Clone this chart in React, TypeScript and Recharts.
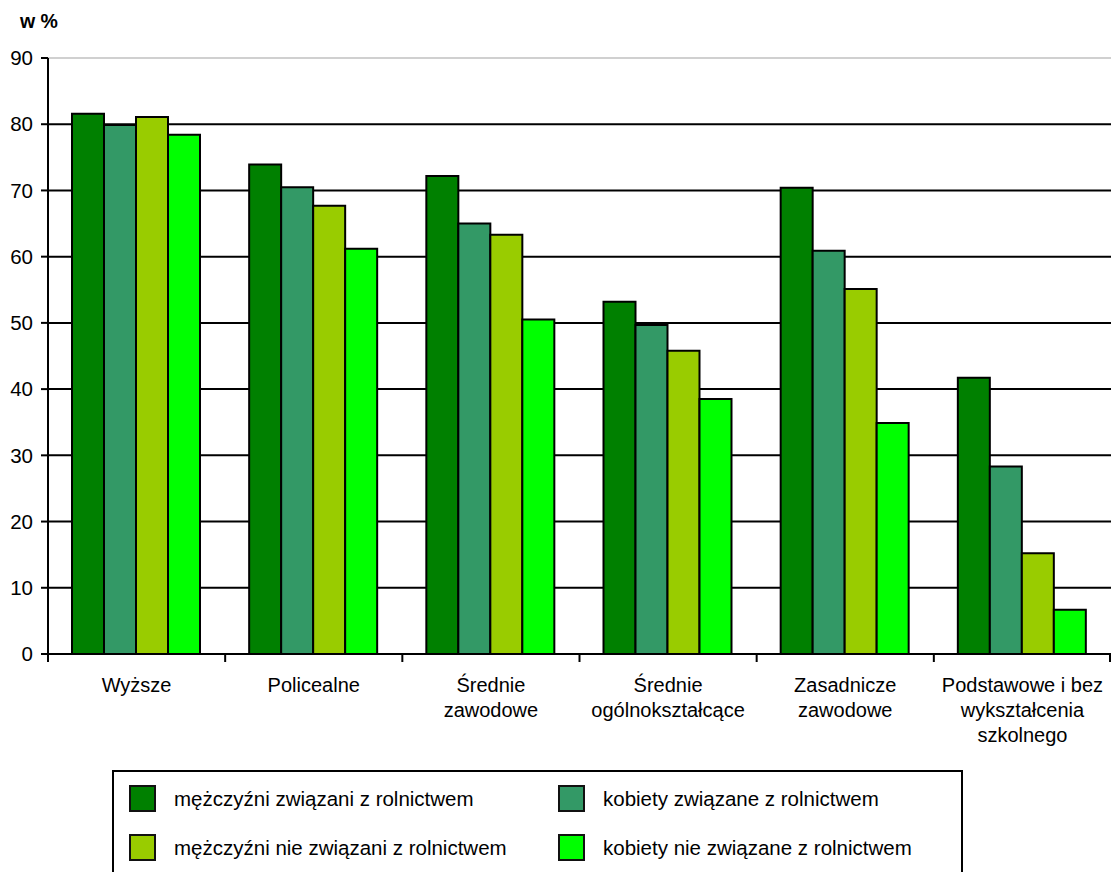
import { BarChart, Bar, XAxis, YAxis, CartesianGrid, ReferenceLine } from "recharts";

const categories = [
  "Wyższe",
  "Policealne",
  "Średnie zawodowe",
  "Średnie ogólnokształcące",
  "Zasadnicze zawodowe",
  "Podstawowe i bez wykształcenia szkolnego",
];

const categoryLines = [
  ["Wyższe"],
  ["Policealne"],
  ["Średnie", "zawodowe"],
  ["Średnie", "ogólnokształcące"],
  ["Zasadnicze", "zawodowe"],
  ["Podstawowe i bez", "wykształcenia", "szkolnego"],
];

const menRural = [81.6, 73.9, 72.2, 53.2, 70.4, 41.7];
const womenRural = [79.9, 70.5, 65.0, 49.7, 60.9, 28.3];
const menNonRural = [81.1, 67.7, 63.3, 45.8, 55.1, 15.2];
const womenNonRural = [78.4, 61.2, 50.5, 38.5, 34.9, 6.7];

const yTicks = [0, 10, 20, 30, 40, 50, 60, 70, 80, 90];
const gridValues = [10, 20, 30, 40, 50, 60, 70, 80];

const series = [
  { key: "menRural", name: "mężczyźni związani z rolnictwem", color: "#008000" },
  { key: "womenRural", name: "kobiety związane z rolnictwem", color: "#339966" },
  { key: "menNonRural", name: "mężczyźni nie związani z rolnictwem", color: "#99CC00" },
  { key: "womenNonRural", name: "kobiety nie związane z rolnictwem", color: "#00FF00" },
];

const data = categories.map((name, i) => ({
  name,
  menRural: menRural[i],
  womenRural: womenRural[i],
  menNonRural: menNonRural[i],
  womenNonRural: womenNonRural[i],
}));

const FONT = "Arial, 'Liberation Sans', sans-serif";

function CategoryTick(props: any) {
  const { x, y, payload, index } = props;
  const half = payload?.offset ?? 88.6;
  const lines = categoryLines[index] ?? [payload.value];
  return (
    <g>
      <line x1={x - half} x2={x - half} y1={y - 8} y2={y} stroke="#000" strokeWidth={2} />
      {index === categories.length - 1 && (
        <line x1={x + half - 1} x2={x + half - 1} y1={y - 8} y2={y} stroke="#000" strokeWidth={2} />
      )}
      <text textAnchor="middle" fontSize={20} fontFamily={FONT} fill="#000">
        {lines.map((l: string, k: number) => (
          <tspan key={k} x={x} y={y + 30 + k * 25}>
            {l}
          </tspan>
        ))}
      </text>
    </g>
  );
}

export default function App() {
  return (
    <div style={{ position: "relative", width: 1111, height: 872, overflow: "hidden", background: "#fff", fontFamily: FONT }}>
      <style>{"body{margin:0}"}</style>
      <div style={{ position: "absolute", left: 20, top: 10, fontSize: 19.5, fontWeight: "bold" }}>w %</div>
      <div style={{ position: "absolute", left: 0, top: 0 }}>
        <BarChart
          width={1111}
          height={760}
          data={data}
          margin={{ top: 58, right: 0, bottom: 0, left: 0 }}
          barCategoryGap={24}
          barGap={0}
        >
          <CartesianGrid vertical={false} horizontalValues={gridValues} stroke="#000" strokeWidth={2} />
          <ReferenceLine y={90} stroke="#c0c0c0" strokeWidth={1.5} />
          <XAxis
            dataKey="name"
            height={106}
            interval={0}
            tickLine={false}
            tickSize={8}
            tickMargin={0}
            axisLine={{ stroke: "#000", strokeWidth: 2 }}
            tick={<CategoryTick />}
          />
          <YAxis
            width={48}
            domain={[0, 90]}
            ticks={yTicks}
            interval={0}
            tickSize={7}
            tickMargin={8}
            axisLine={{ stroke: "#000", strokeWidth: 2 }}
            tickLine={{ stroke: "#000", strokeWidth: 2 }}
            tick={{ fontSize: 20.5, fill: "#000", fontFamily: FONT }}
          />
          {series.map((s) => (
            <Bar
              key={s.key}
              dataKey={s.key}
              name={s.name}
              fill={s.color}
              stroke="#000"
              strokeWidth={2}
              isAnimationActive={false}
            />
          ))}
        </BarChart>
      </div>
      <div
        style={{
          position: "absolute",
          left: 112,
          top: 770,
          width: 851,
          height: 120,
          border: "2px solid #000",
          boxSizing: "border-box",
        }}
      >
        {series.map((s, i) => {
          const col = i % 2;
          const row = Math.floor(i / 2);
          return (
            <div
              key={s.key}
              style={{
                position: "absolute",
                left: col === 0 ? 15 : 444,
                top: 13 + row * 49,
                display: "flex",
                alignItems: "center",
                fontSize: 20.5,
                whiteSpace: "nowrap",
              }}
            >
              <span
                style={{
                  display: "inline-block",
                  width: 27,
                  height: 27,
                  background: s.color,
                  border: "2px solid #111",
                  boxSizing: "border-box",
                }}
              />
              <span style={{ marginLeft: 18 }}>{s.name}</span>
            </div>
          );
        })}
      </div>
    </div>
  );
}
